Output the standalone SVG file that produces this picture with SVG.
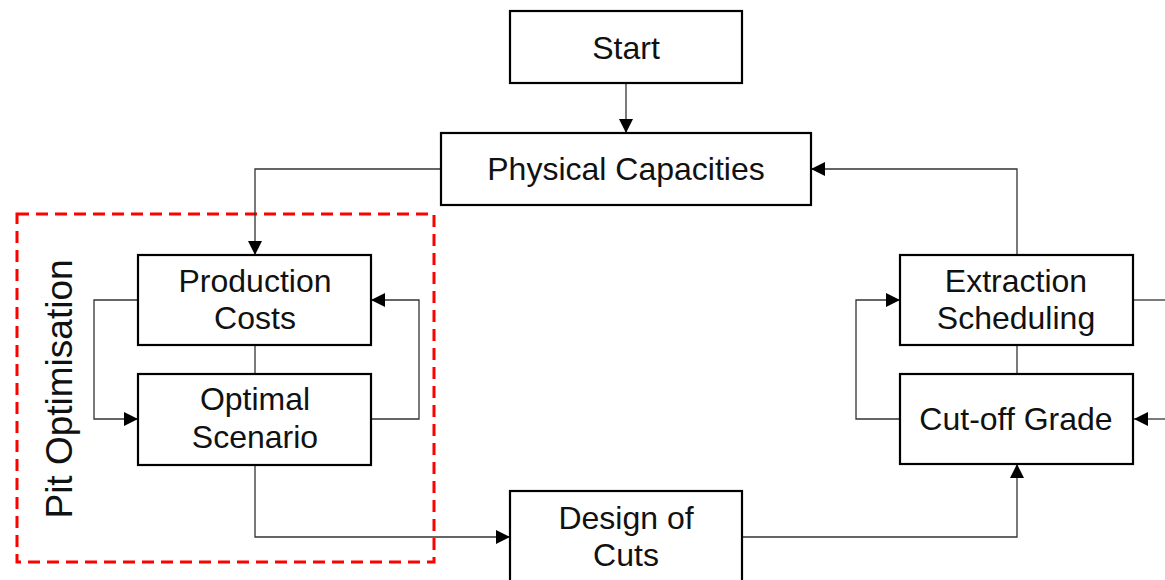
<svg xmlns="http://www.w3.org/2000/svg" width="1165" height="580" viewBox="0 0 1165 580">
  <style>
    .box { fill: #ffffff; stroke: #000000; stroke-width: 2.2; }
    .lbl { font-family: "Liberation Sans", Arial, sans-serif; font-size: 32px; fill: #111111; text-anchor: middle; }
    .conn { fill: none; stroke: #333333; stroke-width: 1.3; }
    .group { fill: none; stroke: #ff0000; stroke-width: 3; stroke-dasharray: 12 7; }
  </style>
  <defs>
    <marker id="arrow" markerUnits="userSpaceOnUse" markerWidth="16" markerHeight="14" refX="14" refY="7" orient="auto">
      <path d="M0,0 L14,7 L0,14 Z" fill="#000000"/>
    </marker>
  </defs>

  <rect width="1165" height="580" fill="#ffffff"/>

  <!-- Pit optimisation grouping -->
  <g id="pit-optimisation">
    <rect class="group" x="17" y="214" width="417" height="348"/>
    <text class="lbl" style="font-size:37px" transform="translate(72,389) rotate(-90)">Pit Optimisation</text>
  </g>

  <!-- connectors -->
  <g id="connectors">
    <path class="conn" d="M626,83 V133" marker-end="url(#arrow)"/>
    <path class="conn" d="M441,169 H255 V255" marker-end="url(#arrow)"/>
    <path class="conn" d="M138,300 H94 V419 H138" marker-end="url(#arrow)"/>
    <path class="conn" d="M371,419 H419 V300 H371" marker-end="url(#arrow)"/>
    <path class="conn" d="M255,345 V374"/>
    <path class="conn" d="M255,465 V537 H510" marker-end="url(#arrow)"/>
    <path class="conn" d="M742,537 H1017 V464" marker-end="url(#arrow)"/>
    <path class="conn" d="M1017,255 V169 H811" marker-end="url(#arrow)"/>
    <path class="conn" d="M900,419 H856 V300 H900" marker-end="url(#arrow)"/>
    <path class="conn" d="M1017,345 V374"/>
    <path class="conn" d="M1133,300 H1165"/>
    <path class="conn" d="M1165,419 H1134" marker-end="url(#arrow)"/>
  </g>

  <g id="start">
    <rect class="box" x="510" y="11" width="232" height="72"/>
    <text class="lbl" x="626" y="59">Start</text>
  </g>

  <g id="physical-capacities">
    <rect class="box" x="441" y="133" width="370" height="72"/>
    <text class="lbl" x="626" y="180">Physical Capacities</text>
  </g>

  <g id="production-costs">
    <rect class="box" x="138" y="255" width="233" height="90"/>
    <text class="lbl" x="255" y="292">Production</text>
    <text class="lbl" x="255" y="329">Costs</text>
  </g>

  <g id="optimal-scenario">
    <rect class="box" x="138" y="374" width="233" height="91"/>
    <text class="lbl" x="255" y="410">Optimal</text>
    <text class="lbl" x="255" y="448">Scenario</text>
  </g>

  <g id="design-of-cuts">
    <rect class="box" x="510" y="491" width="232" height="100"/>
    <text class="lbl" x="626" y="529">Design of</text>
    <text class="lbl" x="626" y="566">Cuts</text>
  </g>

  <g id="extraction-scheduling">
    <rect class="box" x="900" y="255" width="233" height="90"/>
    <text class="lbl" x="1016" y="292">Extraction</text>
    <text class="lbl" x="1016" y="329">Scheduling</text>
  </g>

  <g id="cut-off-grade">
    <rect class="box" x="900" y="374" width="233" height="90"/>
    <text class="lbl" x="1016" y="430">Cut-off Grade</text>
  </g>
</svg>
